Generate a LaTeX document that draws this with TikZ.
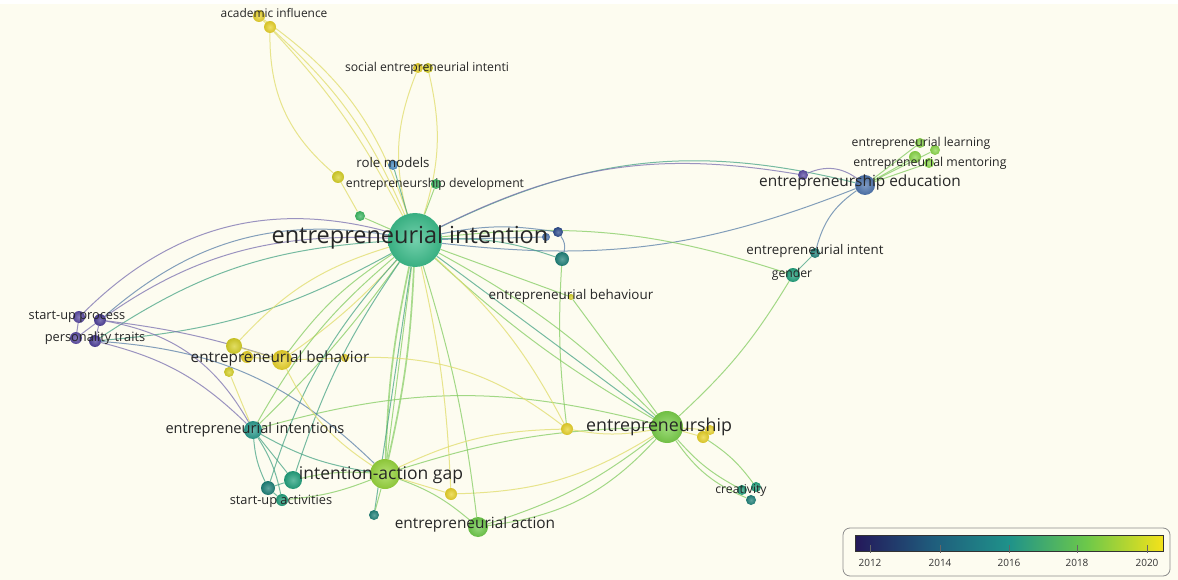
\documentclass[tikz,border=0pt]{standalone}
\usepackage{fontspec}
\setmainfont{Open Sans}
\pgfdeclarelayer{paper}
\pgfdeclarelayer{links}
\pgfsetlayers{paper,links,main}

% year colours (viridis-like scale)
\definecolor{bgc}{HTML}{FDFCF0}
\definecolor{cEI}{HTML}{3DBE8C}
\definecolor{cEP}{HTML}{7ACF4A}
\definecolor{cEE}{HTML}{4D74AE}
\definecolor{cIAG}{HTML}{98D63E}
\definecolor{cEA}{HTML}{6FCB4B}
\definecolor{cYel}{HTML}{E8D22A}
\definecolor{cYel2}{HTML}{D6D026}
\definecolor{cTeal}{HTML}{2A9A8C}
\definecolor{cTeal2}{HTML}{22A07C}
\definecolor{cTealD}{HTML}{1E8078}
\definecolor{cPur}{HTML}{5B4BA3}
\definecolor{cPur2}{HTML}{4A3C96}
\definecolor{cNavy}{HTML}{2C4A8C}
\definecolor{cBlue}{HTML}{4A8CC0}
\definecolor{cGrn}{HTML}{3CB862}
\definecolor{cLime}{HTML}{8AD64A}
\definecolor{lkG}{HTML}{84CC62}
\definecolor{lkY}{HTML}{E0DC6A}
\definecolor{lkT}{HTML}{48A486}
\definecolor{lkP}{HTML}{7A70B0}
\definecolor{lkB}{HTML}{5A7FA8}
\definecolor{v0}{HTML}{24185A}
\definecolor{v1}{HTML}{1F5C7C}
\definecolor{v2}{HTML}{1F928A}
\definecolor{v3}{HTML}{6CC84A}
\definecolor{v4}{HTML}{F4E21A}

\pgfdeclarehorizontalshading{yearbar}{100bp}{color(0bp)=(v0); color(25bp)=(v0);
  color(37.5bp)=(v1); color(50bp)=(v2); color(62.5bp)=(v3); color(75bp)=(v4); color(100bp)=(v4)}

\tikzset{
  ball/.style={circle, inner sep=0pt, minimum size=#1},
  tint/.style={inner color=#1!72!white, outer color=#1!92!black},
  lab/.style={font=\fontsize{#1}{#1}\selectfont, text=black!85, inner sep=0pt},
  lk/.style={draw=#1, line width=1pt, opacity=0.75},
  lkw/.style={draw=#1, line width=1.7pt, opacity=0.7},
  yr/.style={font=\fontsize{10}{10}\selectfont, text=black!80, inner sep=0pt}
}

\begin{document}
\begin{tikzpicture}[x=1pt,y=-1pt]
\useasboundingbox (0,0) rectangle (1178,580);
\begin{pgfonlayer}{paper}
\fill[bgc] (0,0) rectangle (1178,580);
\fill[white] (0,0) rectangle (1178,4);
\end{pgfonlayer}

% ---- items ----
\node[ball=54, tint=cEI] (ei) at (415,240) {};
\node[ball=32, tint=cEP] (ep) at (667,427) {};
\node[ball=20, tint=cEE] (ee) at (865,185) {};
\node[ball=30, tint=cIAG] (iag) at (385,474) {};
\node[ball=20, tint=cEA] (ea) at (478,527) {};
\node[ball=20, tint=cYel] (eb) at (282,360) {};
\node[ball=18, tint=cTeal] (eis) at (253,430) {};
\node[ball=18, tint=cTeal2] (sa1) at (293,480) {};
\node[ball=14, tint=cTealD] (sa2) at (268,488) {};
\node[ball=12, tint=cTeal2] (sa3) at (282,500) {};
\node[ball=12, tint=cPur] (sp1) at (79,317) {};
\node[ball=12, tint=cPur2] (sp2) at (100,320) {};
\node[ball=12, tint=cPur] (pt1) at (76,338) {};
\node[ball=12, tint=cPur2] (pt2) at (95,341) {};
\node[ball=12, tint=cYel] (ai1) at (259,16) {};
\node[ball=12, tint=cYel] (ai2) at (270,27) {};
\node[ball=10, tint=cYel] (sei1) at (418,68) {};
\node[ball=10, tint=cYel2] (sei2) at (428,68) {};
\node[ball=10, tint=cBlue] (rm) at (393,165) {};
\node[ball=10, tint=cGrn] (ed) at (436,184) {};
\node[ball=12, tint=cYel2] (yl1) at (338,177) {};
\node[ball=10, tint=cGrn] (gn1) at (360,216) {};
\node[ball=10, tint=cNavy] (db1) at (558,232) {};
\node[ball=8, tint=cEE] (db2) at (546,237) {};
\node[ball=14, tint=cTealD] (tl1) at (562,259) {};
\node[ball=6, tint=cYel2] (ebu) at (571,297) {};
\node[ball=10, tint=cLime] (el1) at (920,143) {};
\node[ball=10, tint=cLime] (el2) at (935,150) {};
\node[ball=12, tint=cLime] (em1) at (915,157) {};
\node[ball=10, tint=cLime] (em2) at (929,163) {};
\node[ball=10, tint=cPur] (pu) at (803,175) {};
\node[ball=10, tint=cTealD] (ein) at (815,253) {};
\node[ball=14, tint=cTeal2] (gd) at (793,275) {};
\node[ball=10, tint=cTeal2] (cr1) at (742,490) {};
\node[ball=10, tint=cTeal2] (cr2) at (756,487) {};
\node[ball=10, tint=cTealD] (cr3) at (751,500) {};
\node[ball=12, tint=cYel] (y1) at (567,429) {};
\node[ball=12, tint=cYel] (y2) at (703,437) {};
\node[ball=10, tint=cYel] (y3) at (710,430) {};
\node[ball=16, tint=cYel2] (yb1) at (234,346) {};
\node[ball=12, tint=cYel] (yb2) at (247,357) {};
\node[ball=10, tint=cYel2] (yb3) at (229,372) {};
\node[ball=8, tint=cYel] (yb4) at (345,358) {};
\node[ball=12, tint=cYel] (y4) at (451,494) {};
\node[ball=10, tint=cTealD] (dt) at (374,515) {};

% ---- labels ----
\node[lab=23.5] (tEI) at (410,237) {entrepreneurial intention};
\node[lab=17.8] (tEP) at (659,427) {entrepreneurship};
\node[lab=15.4] (tEE) at (860,183) {entrepreneurship education};
\node[lab=17.5] (tIAG) at (381,475) {intention-action gap};
\node[lab=15.4] (tEA) at (475,524) {entrepreneurial action};
\node[lab=15.3] (tEB) at (280,359) {entrepreneurial behavior};
\node[lab=14.6] (tEIS) at (255,430) {entrepreneurial intentions};
\node[lab=12.8] (tSA) at (281,501) {start-up activities};
\node[lab=12.8] (tSP) at (77,317) {start-up process};
\node[lab=12.8] (tPT) at (95,338) {personality traits};
\node[lab=11.9] (tAI) at (274,13) {academic influence};
\node[lab=12.2] (tSEI) at (427,68) {social entrepreneurial intenti};
\node[lab=13.3] (tRM) at (393,163) {role models};
\node[lab=12.2] (tED) at (435,184) {entrepreneurship development};
\node[lab=13.4] (tEBU) at (571,296) {entrepreneurial behaviour};
\node[lab=12.2] (tEL) at (921,143) {entrepreneurial learning};
\node[lab=12.3] (tEM) at (930,163) {entrepreneurial mentoring};
\node[lab=13.3] (tEIN) at (815,251) {entrepreneurial intent};
\node[lab=12.2] (tGD) at (792,274) {gender};
\node[lab=12.2] (tCR) at (741,490) {creativity};

% ---- links ----
\begin{pgfonlayer}{links}
% upper yellow links
\draw[lk=lkY] (ai2) to[bend right=25] (yl1);
\draw[lk=lkY] (ai1) to[bend left=8] (ei);
\draw[lk=lkY] (ai2) to[bend left=12] (ei);
\draw[lk=lkY] (ai1) to[bend left=18] (ei);
\draw[lk=lkY] (sei1) to[bend right=18] (ei);
\draw[lk=lkY] (sei2) to[bend left=15] (ei);
\draw[lk=lkT] (rm) -- (ei);
\draw[lk=lkG] (ed) -- (ei);
\draw[lk=lkG] (gn1) -- (ei);
\draw[lk=lkY] (yl1) -- (gn1);
% long links to the left cluster
\draw[lk=lkP] (ei) to[bend right=30] (sp1);
\draw[lk=lkB] (ei) to[bend right=25] (sp2);
\draw[lk=lkP] (ei) to[bend right=20] (pt1);
\draw[lk=lkT] (ei) to[bend right=15] (pt2);
\draw[lk=lkT] (pt2) to[bend right=12] (ei);
% links to the right
\draw[lk=lkT] (ei) to[bend left=20] (ee);
\draw[lk=lkP] (ei) to[bend left=18] (pu);
\draw[lk=lkP] (pu) to[bend left=30] (ee);
\draw[lk=lkB] (ee) to[bend left=14] (ei);
\draw[lk=lkG] (ei) to[bend left=12] (gd);
\draw[lk=lkB] (ee) to[bend right=20] (ein);
\draw[lk=lkT] (ein) -- (gd);
\draw[lk=lkG] (gd) to[bend left=8] (ep);
\draw[lk=lkG] (ee) -- (el1);
\draw[lk=lkG] (ee) -- (el2);
\draw[lk=lkG] (ee) -- (em1);
\draw[lk=lkG] (ee) -- (em2);
\draw[lk=lkB] (ei) to[bend left=10] (db1);
\draw[lk=lkB] (ei) -- (db2);
\draw[lk=lkT] (ei) to[bend left=10] (tl1);
\draw[lk=lkB] (db1) to[bend left=25] (tl1);
\draw[lk=lkG] (tl1) to[bend right=5] (y1);
\draw[lk=lkG] (ei) -- (ebu);
\draw[lk=lkG] (ebu) -- (ep);
% entrepreneurship
\draw[lk=lkG] (ei) to[bend left=8] (ep);
\draw[lk=lkG] (ei) to[bend right=6] (ep);
\draw[lk=lkT] (ei) -- (ep);
\draw[lk=lkG] (ep) to[bend right=8] (iag);
\draw[lk=lkG] (ep) to[bend left=10] (ea);
\draw[lk=lkG] (ep) to[bend left=20] (ea);
\draw[lk=lkG] (eis) to[bend left=15] (ep);
\draw[lk=lkG] (ep) to[bend right=10] (cr1);
\draw[lk=lkG] (ep) to[bend right=16] (cr3);
\draw[lk=lkG] (y2) to[bend left=10] (cr2);
\draw[lk=lkY] (ep) -- (y2);
\draw[lk=lkY] (ep) -- (y3);
\draw[lk=lkY] (y4) to[bend right=15] (ep);
\draw[lk=lkY] (y1) to[bend right=10] (ep);
% lower centre
\draw[lk=lkG] (ei) to[bend right=10] (eb);
\draw[lk=lkY] (ei) to[bend left=6] (eb);
\draw[lk=lkG] (ei) to[bend right=10] (eis);
\draw[lk=lkG] (ei) to[bend left=5] (eis);
\draw[lkw=lkG] (ei) to[bend left=5] (iag);
\draw[lkw=lkG] (ei) to[bend right=5] (iag);
\draw[lk=lkG] (ei) -- (iag);
\draw[lk=lkG] (ei) to[bend left=5] (ea);
\draw[lk=lkT] (ei) to[bend right=8] (sa1);
\draw[lk=lkT] (ei) to[bend right=12] (sa2);
\draw[lk=lkY] (ei) to[bend left=5] (y4);
\draw[lk=lkY] (ei) to[bend left=10] (y1);
\draw[lk=lkT] (ei) -- (dt);
% left clusters
\draw[lk=lkT] (eis) -- (sa1);
\draw[lk=lkT] (eis) to[bend right=10] (sa2);
\draw[lk=lkT] (eis) to[bend left=10] (sa3);
\draw[lk=lkT] (eis) to[bend right=10] (iag);
\draw[lk=lkP] (pt2) to[bend left=15] (eis);
\draw[lk=lkP] (sp2) to[bend left=25] (eis);
\draw[lk=lkB] (pt2) to[bend left=20] (iag);
\draw[lk=lkP] (sp2) to[bend left=5] (eb);
\draw[lk=lkP] (sp1) -- (pt1);
\draw[lk=lkP] (sp2) -- (pt2);
\draw[lk=lkY] (eb) -- (yb2);
\draw[lk=lkY] (eb) -- (yb1);
\draw[lk=lkY] (eb) -- (yb4);
\draw[lk=lkY] (eb) to[bend right=15] (iag);
\draw[lk=lkY] (yb3) -- (eis);
\draw[lk=lkY] (yb1) to[bend left=15] (ei);
\draw[lk=lkY] (yb4) to[bend left=20] (y1);
\draw[lk=lkG] (iag) to[bend left=10] (ea);
\draw[lk=lkY] (iag) -- (y4);
\draw[lk=lkG] (iag) -- (dt);
\draw[lk=lkG] (iag) to[bend right=8] (sa1);
\draw[lk=lkG] (iag) to[bend left=8] (sa3);
\draw[lk=lkY] (y1) to[bend right=12] (iag);
\draw[lk=lkT] (sa1) -- (sa2);
\draw[lk=lkT] (sa2) -- (sa3);
\end{pgfonlayer}

% ---- year legend ----
\draw[black!45, line width=0.8pt, fill=bgc, rounded corners=7pt] (843,528) rectangle (1170,576);
\shade[shading=yearbar, draw=black!80, line width=0.6pt] (855,535) rectangle (1163,551);
\foreach \yy/\xx in {2012/870, 2014/940, 2016/1009, 2018/1077, 2020/1147}{
  \draw[black!60, line width=0.6pt] (\xx,545) -- (\xx,553);
  \node[yr] (yr\yy) at (\xx,563) {\yy};
}
\end{tikzpicture}
\end{document}
